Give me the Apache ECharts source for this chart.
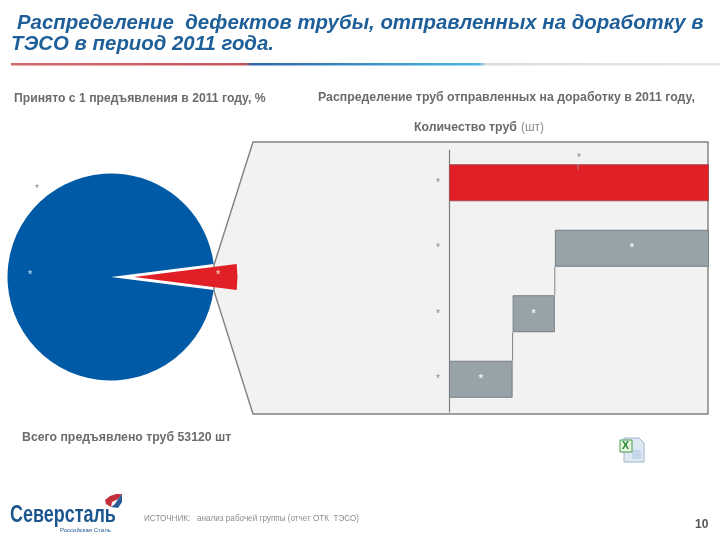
<!DOCTYPE html>
<html>
<head>
<meta charset="utf-8">
<style>
  html, body { margin: 0; padding: 0; background: #fff; }
  #main { width: 720px; height: 540px; }
</style>
<script src="https://cdn.jsdelivr.net/npm/echarts@6/dist/echarts.min.js"></script>
</head>
<body>
<div id="main"></div>
<script>
// подписи на исходном слайде скрыты звёздочками, значения оценены по картинке
const pieNames = ['На доработку', 'Принято с 1 предъявления']
const pieValues = [4, 96]
const pieLabels = ['*', '*']

const barCategories = ['*', '*', '*', '*']
const barOffsets = [0, 520, 865, 0]
const barValues = [520, 345, 1260, 2125]
// соединительные линии: значение по оси x, от какой полосы к какой
const connectors = [
  [520, 0, 1],
  [865, 1, 2],
]

const font = '"Liberation Sans", Arial, sans-serif'
const grey = '#6b6b6b'
const barHeight = 37

function text(x, y, str, size, color, weight, extra) {
  return Object.assign({
    type: 'text',
    x: x,
    y: y,
    z: 10,
    style: {
      text: str,
      font: (weight || 'bold') + ' ' + size + 'px ' + font,
      fill: color,
      textVerticalAlign: 'middle',
    },
  }, extra)
}

const chart = echarts.init(document.getElementById('main'))

const option = {
  animation: false,
  backgroundColor: '#fff',
  graphic: [
    // панель с выноской от сектора
    {
      type: 'polygon',
      z: 0,
      shape: { points: [[214, 265], [253, 142], [708, 142], [708, 414], [253, 414], [214, 291]] },
      style: { fill: '#f2f2f2', stroke: '#808080', lineWidth: 1.4 },
    },
    {
      type: 'rect',
      z: 1,
      shape: { x: 11, y: 63, width: 709, height: 2.5 },
      style: {
        fill: {
          type: 'linear', x: 0, y: 0, x2: 1, y2: 0,
          colorStops: [
            { offset: 0, color: '#d06a6a' },
            { offset: 0.33, color: '#c8555a' },
            { offset: 0.34, color: '#2f6aa8' },
            { offset: 0.66, color: '#4bb5e2' },
            { offset: 0.67, color: '#dddddd' },
            { offset: 1, color: '#e6e6e6' },
          ],
        },
      },
    },
    text(17, 23, 'Распределение  дефектов трубы, отправленных на доработку в', 20.4, '#1f5f99', 'italic bold'),
    text(11, 44, 'ТЭСО в период 2011 года.', 20.4, '#1f5f99', 'italic bold'),
    text(14, 99, 'Принято с 1 предъявления в 2011 году, %', 12.2, grey),
    text(318, 98, 'Распределение труб отправленных на доработку в 2011 году,', 12.3, grey),
    text(414, 128, 'Количество труб', 12.3, grey),
    text(521, 128, '(шт)', 12, '#8a8a8a', 'normal'),
    text(22, 438, 'Всего предъявлено труб 53120 шт', 12.3, grey),
    text(144, 519, 'ИСТОЧНИК:   анализ рабочей группы (отчет ОТК  ТЭСО)', 8.15, '#8c8c8c', 'normal'),
    text(695, 525, '10', 12, '#555'),
    // звёздочки у круговой диаграммы
    text(35, 189, '*', 10, '#888', 'normal'),
    text(28, 275, pieLabels[1], 11, '#8fc4ee', 'bold'),
    text(216, 275, pieLabels[0], 11, '#f5b5a0', 'bold'),
    // выноска над верхней полосой
    { type: 'line', z: 10, shape: { x1: 578, y1: 164, x2: 578, y2: 170 }, style: { stroke: '#a0888a', lineWidth: 1 } },
    // логотип
    text(10, 516, 'Северсталь', 23, '#1d568f', 'bold', { scaleX: 0.78 }),
    text(60, 530, 'Российская Сталь', 6, '#1d568f', 'normal'),
    {
      type: 'polygon', z: 10,
      shape: { points: [[105, 500], [110, 496], [116, 494], [122, 494], [118, 499], [112, 502], [111, 507], [106, 504]] },
      style: { fill: '#c4303a' },
    },
    {
      type: 'polygon', z: 10,
      shape: { points: [[122, 494], [122, 502], [118, 508], [111, 507], [115, 504], [118, 499]] },
      style: { fill: '#2c5c94' },
    },
    // значок Excel
    {
      type: 'polygon', z: 10,
      shape: { points: [[624, 438], [639, 438], [644, 443], [644, 462], [624, 462]] },
      style: { fill: '#dfe9f4', stroke: '#9fb4cc', lineWidth: 1 },
    },
    { type: 'rect', z: 10, shape: { x: 632, y: 450, width: 9, height: 9 }, style: { fill: '#c3d6ea' } },
    { type: 'rect', z: 11, shape: { x: 620, y: 440, width: 12, height: 12 }, style: { fill: '#e8f3e0', stroke: '#4aa04a', lineWidth: 1 } },
    text(622, 446, 'X', 10.5, '#1f8a2f', 'bold', { z: 12 }),
  ],
  grid: { left: 449, top: 150, width: 260, height: 262 },
  xAxis: { type: 'value', min: 0, max: 2125, show: false },
  yAxis: {
    type: 'category',
    data: barCategories,
    axisLine: { lineStyle: { color: '#808080', width: 1.2 } },
    axisTick: { show: false },
    axisLabel: { color: '#888', fontSize: 10, margin: 9, fontFamily: font },
  },
  series: [
    {
      type: 'pie',
      center: [111, 277],
      radius: 103.5,
      startAngle: 7.2,
      clockwise: true,
      silent: true,
      selectedOffset: 23,
      selectedMode: 'multiple',
      label: { show: false },
      labelLine: { show: false },
      data: [
        { name: pieNames[0], value: pieValues[0], selected: true, itemStyle: { color: '#e01f26' } },
        { name: pieNames[1], value: pieValues[1], itemStyle: { color: '#005aa5' } },
      ],
    },
    {
      type: 'bar',
      stack: 'w',
      barWidth: barHeight,
      silent: true,
      itemStyle: { color: 'transparent' },
      data: barOffsets,
    },
    {
      type: 'bar',
      stack: 'w',
      barWidth: barHeight,
      silent: true,
      itemStyle: { color: '#98a3a9', borderColor: '#777f85', borderWidth: 1 },
      label: { show: true, position: 'inside', formatter: '*', color: '#f0f0f0', fontSize: 11, fontWeight: 'bold' },
      data: barValues.map(function (v, i) {
        if (i === 3) {
          return {
            value: v,
            itemStyle: { color: '#e01f26', borderColor: '#a8494c' },
            label: { position: 'top', distance: 1, color: '#888', fontWeight: 'normal', fontSize: 10 },
          }
        }
        return v
      }),
    },
    {
      type: 'custom',
      silent: true,
      z: 1,
      data: connectors,
      encode: { x: 0, y: [1, 2] },
      renderItem: function (params, api) {
        const from = api.coord([api.value(0), api.value(1)])
        const to = api.coord([api.value(0), api.value(2)])
        return {
          type: 'line',
          shape: { x1: from[0], y1: from[1] - barHeight / 2, x2: to[0], y2: to[1] + barHeight / 2 },
          style: { stroke: '#808080', lineWidth: 1 },
        }
      },
    },
  ],
}

chart.setOption(option)
</script>
</body>
</html>
